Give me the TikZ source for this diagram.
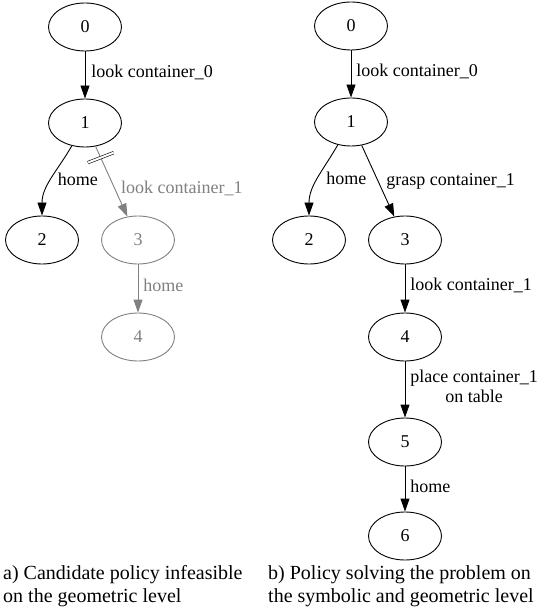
\documentclass[tikz,border=0pt]{standalone}
\usepackage{fontspec}
\setmainfont{Liberation Serif}
\usetikzlibrary{arrows.meta,shapes.geometric}

\begin{document}
\begin{tikzpicture}[x=1pt,y=1pt,
  state/.style={draw,ellipse,minimum width=73pt,minimum height=48pt,inner sep=0pt,line width=0.9pt,font=\rmfamily\fontsize{18}{21}\selectfont},
  edge/.style={line width=0.9pt,-{Triangle[length=13pt,width=9pt]}},
  lbl/.style={font=\rmfamily\fontsize{18}{20}\selectfont,inner sep=0pt},
  caption/.style={font=\rmfamily\fontsize{20}{23}\selectfont,align=left,anchor=north west,inner sep=0pt}]
\useasboundingbox (0,0) rectangle (543,-609);

\node[state] (a0) at (85,-27) {0};
\node[state] (a1) at (85,-123) {1};
\node[state] (a2) at (42,-240) {2};
\node[state,gray] (a3) at (138,-240) {3};
\node[state,gray] (a4) at (138,-337) {4};

\draw[edge] (a0) -- node[lbl,right,xshift=6pt,yshift=3pt] {look container\_0} (a1);
\draw[edge] (a1) to[out=-120,in=90] node[lbl,right,pos=0.5,xshift=6pt] {home} (a2);
\draw[edge,gray] (a1) -- coordinate[pos=0.16] (cut) node[lbl,right,pos=0.6,xshift=6pt] {look container\_1} (a3);
\draw[edge,gray] (a3) -- node[lbl,right,xshift=5pt,yshift=3pt] {home} (a4);
\draw[double,double distance=2pt,line width=0.6pt] ([shift={(-13,-5)}]cut) -- ([shift={(13,5)}]cut);

\node[state] (b0) at (351,-26) {0};
\node[state] (b1) at (351,-122) {1};
\node[state] (b2) at (309,-240) {2};
\node[state] (b3) at (405,-240) {3};
\node[state] (b4) at (405,-337) {4};
\node[state] (b5) at (405,-442) {5};
\node[state] (b6) at (405,-536) {6};

\draw[edge] (b0) -- node[lbl,right,xshift=5pt,yshift=3pt] {look container\_0} (b1);
\draw[edge] (b1) to[out=-120,in=90] node[lbl,right,pos=0.5,xshift=8pt] {home} (b2);
\draw[edge] (b1) -- node[lbl,right,pos=0.5,xshift=8pt] {grasp container\_1} (b3);
\draw[edge] (b3) -- node[lbl,right,xshift=5pt,yshift=3pt] {look container\_1} (b4);
\draw[edge] (b4) -- node[lbl,right,align=center,xshift=5pt,yshift=3pt] {place container\_1\\on table} (b5);
\draw[edge] (b5) -- node[lbl,right,xshift=5pt,yshift=3pt] {home} (b6);

\node[caption] (capa) at (3,-565) {a) Candidate policy infeasible\\on the geometric level};
\node[caption] (capb) at (268,-565) {b) Policy solving the problem on\\the symbolic and geometric level};
\end{tikzpicture}
\end{document}
